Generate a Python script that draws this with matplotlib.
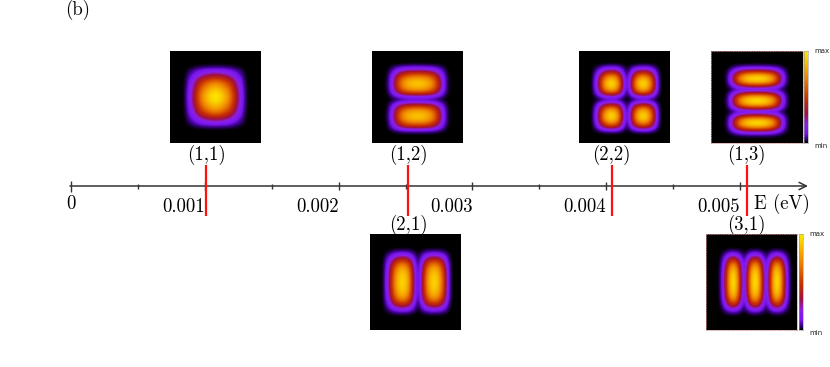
import numpy as np
import matplotlib
matplotlib.use('Agg')
import matplotlib.pyplot as plt
from matplotlib.colors import LinearSegmentedColormap

# energy axis
minor_ticks = [0.0005, 0.0015, 0.0025, 0.0035, 0.0045]
major_ticks = [0.001, 0.002, 0.003, 0.004, 0.005]
major_labels = ['0.001', '0.002', '0.003', '0.004', '0.005']
level_energy = [0.00101, 0.00252, 0.00404, 0.00505]
upper_states = ['(1,1)', '(1,2)', '(2,2)', '(1,3)']
lower_states = [None, '(2,1)', None, '(3,1)']

# intensity read across each map, 25 samples from edge to edge
one_lobe = [0, 0, 0, 0, 0.04, 0.18, 0.32, 0.5, 0.68, 0.8, 0.9, 0.97, 1,
            0.97, 0.9, 0.8, 0.68, 0.5, 0.32, 0.18, 0.04, 0, 0, 0, 0]
two_lobes = [0, 0, 0, 0, 0.12, 0.36, 0.66, 0.88, 1, 0.98, 0.84, 0.52, 0.14, 0.06,
             0.38, 0.7, 0.92, 1, 0.96, 0.76, 0.48, 0.12, 0, 0, 0]
three_lobes = [0, 0, 0, 0, 0.1, 0.42, 0.82, 1, 0.82, 0.38, 0.07, 0.42, 0.85, 1,
               0.85, 0.42, 0.07, 0.38, 0.82, 1, 0.82, 0.4, 0.08, 0, 0]
flat_lobe = [0, 0, 0, 0, 0.04, 0.2, 0.42, 0.64, 0.8, 0.9, 0.96, 0.99, 1,
             0.99, 0.96, 0.9, 0.8, 0.64, 0.42, 0.2, 0.04, 0, 0, 0, 0]

# pixel boxes of the maps: left, top, right, bottom
map_boxes = [(170, 51, 261, 143), (372, 51, 463, 143), (579, 51, 670, 143),
             (711, 51, 803, 143), (370, 234, 461, 330), (706, 234, 797, 330)]
W, H = 830, 367

plt.rcParams['font.family'] = ['cmr10', 'DejaVu Serif']
plt.rcParams['axes.formatter.use_mathtext'] = True

cmap = LinearSegmentedColormap.from_list('pm', [
    (0, '#000000'), (0.03, '#300070'), (0.1, '#7a14f0'), (0.2, '#8a20e8'),
    (0.32, '#a01040'), (0.48, '#c83000'), (0.72, '#f08800'), (1, '#ffe800')])

fig = plt.figure(figsize=(8.3, 3.67), dpi=100)
px = 1 / 133800
ax = fig.add_axes([0, 0, 1, 1])
ax.set_xlim(-71 * px, (W - 71) * px)
ax.set_ylim(H, 0)
ax.axis('off')

ax.annotate('', xy=(737 * px, 186), xytext=(-1 * px, 186),
            arrowprops=dict(arrowstyle='->', color='#333333', lw=1.1, mutation_scale=13,
                            shrinkA=0, shrinkB=0))
ax.vlines(0, 181, 192, color='#333333', lw=1)
ax.vlines(major_ticks, 182, 190, color='#333333', lw=1)
ax.vlines(minor_ticks, 184, 189, color='#333333', lw=1)
ax.vlines(level_energy, 165, 216, color='#ff1010', lw=1.6, zorder=3)

fs = 13.5
ax.text(0, 204, '0', ha='center', va='center', fontsize=fs)
for t, s in zip(major_ticks, major_labels):
    ax.text(t, 207, s, ha='right', va='center', fontsize=fs)
ax.text(683 * px, 204, 'E (eV)', ha='left', va='center', fontsize=fs)
for e, s in zip(level_energy, upper_states):
    ax.text(e, 155, s, ha='center', va='center', fontsize=fs)
for e, s in zip(level_energy, lower_states):
    if s:
        ax.text(e, 225, s, ha='center', va='center', fontsize=fs)
ax.text(-6 * px, 10, '(b)', ha='left', va='center', fontsize=fs)

maps = [np.outer(one_lobe, one_lobe),
        np.outer(two_lobes, flat_lobe) * 0.9,
        np.outer(two_lobes, two_lobes) * 0.95,
        np.outer(three_lobes, flat_lobe),
        np.outer(flat_lobe, two_lobes) * 0.95,
        np.outer(flat_lobe, three_lobes)]


def box_axes(box):
    l, t, r, b = box
    a = fig.add_axes([l / W, 1 - b / H, (r - l) / W, (b - t) / H])
    a.set_xticks([])
    a.set_yticks([])
    return a


for i, (box, m) in enumerate(zip(map_boxes, maps)):
    a = box_axes(box)
    a.imshow(m, cmap=cmap, vmin=0, vmax=1, aspect='auto', interpolation='bicubic')
    for sp in a.spines.values():
        sp.set_visible(i in (3, 5))
        sp.set_color('#d09090')
        sp.set_linewidth(0.5)
        sp.set_linestyle((0, (2, 1.5)))

# colour bars beside the last map of each row
for box in [(804, 51, 808, 143), (799, 234, 803, 330)]:
    a = box_axes(box)
    a.imshow(np.linspace(1, 0, 100).reshape(-1, 1), cmap=cmap, vmin=0, vmax=1, aspect='auto')
    for sp in a.spines.values():
        sp.set_color('#999999')
        sp.set_linewidth(0.4)
    fig.text((box[2] + 6) / W, 1 - (box[1] + 0) / H, 'max', fontsize=5, family='DejaVu Sans',
             va='center', color='#222222')
    fig.text((box[2] + 6) / W, 1 - (box[3] + 3) / H, 'min', fontsize=5, family='DejaVu Sans',
             va='center', color='#222222')

fig.savefig('out.png', dpi=100)
